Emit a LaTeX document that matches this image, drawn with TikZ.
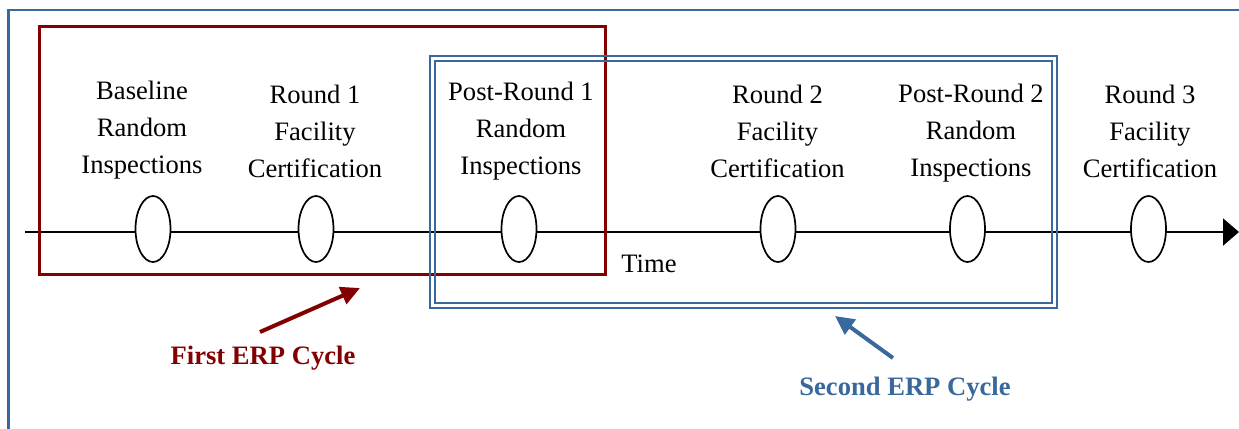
\documentclass[tikz,border=0pt]{standalone}
\usepackage{fontspec}
\setmainfont{Liberation Serif}
\usetikzlibrary{arrows.meta,shapes.geometric}
\definecolor{erpred}{RGB}{130,0,0}
\definecolor{erpblue}{RGB}{56,104,156}
\tikzset{
  evt/.style={ellipse, draw=black, line width=0.85pt, fill=white, minimum width=17.5pt, minimum height=33pt, inner sep=0pt},
  lbl/.style={align=center, font=\fontsize{13.3pt}{18.5pt}\selectfont, inner sep=0pt},
  cyc/.style={font=\fontsize{13.3pt}{16pt}\selectfont\bfseries, inner sep=0pt},
}
\begin{document}
\begin{tikzpicture}[x=0.5pt,y=-0.5pt]
\useasboundingbox (0,0) rectangle (1239,429);
\clip (0,0) rectangle (1239,429);
% outer frame
\draw[erpblue, line width=1.2pt] (8.5,10) rectangle (1260,450);
% timeline
\coordinate (t0) at (25,232);
\coordinate (t1) at (1239,232);
\draw[line width=1.1pt, -{Triangle[length=8pt,width=13.5pt]}] (t0) -- (t1);
% events
\node[evt] (e1) at (153,229) {};
\node[evt] (e2) at (316,229) {};
\node[evt] (e3) at (519,229) {};
\node[evt] (e4) at (778,229) {};
\node[evt] (e5) at (967.5,229) {};
\node[evt] (e6) at (1148.5,229) {};
% labels
\node[lbl] (l1) at (142,130) {Baseline\\Random\\Inspections};
\node[lbl] (l2) at (315,131) {Round 1\\Facility\\Certification};
\node[lbl] (l3) at (521,131) {Post-Round 1\\Random\\Inspections};
\node[lbl] (l4) at (777.5,131) {Round 2\\Facility\\Certification};
\node[lbl] (l5) at (971,133) {Post-Round 2\\Random\\Inspections};
\node[lbl] (l6) at (1150,131) {Round 3\\Facility\\Certification};
\node[lbl] (time) at (649,264) {Time};
% first cycle box
\draw[erpred, line width=1.5pt] (39.5,26.5) rectangle (605.5,274.5);
% second cycle double box
\draw[erpblue, line width=1pt] (430,56) rectangle (1057,308);
\draw[erpblue, line width=1pt] (435,61) rectangle (1052,303);
% cycle labels and arrows
\node[cyc, text=erpred] (c1) at (263,358) {First ERP Cycle};
\coordinate (c1a) at (260,332);
\coordinate (c1b) at (360,288);
\draw[erpred, line width=2pt, -{Triangle[length=9.5pt,width=9pt]}] (c1a) -- (c1b);
\node[cyc, text=erpblue] (c2) at (905,389) {Second ERP Cycle};
\coordinate (c2a) at (893,358);
\coordinate (c2b) at (835,316);
\draw[erpblue, line width=2pt, -{Triangle[length=9.5pt,width=9pt]}] (c2a) -- (c2b);
\end{tikzpicture}
\end{document}
